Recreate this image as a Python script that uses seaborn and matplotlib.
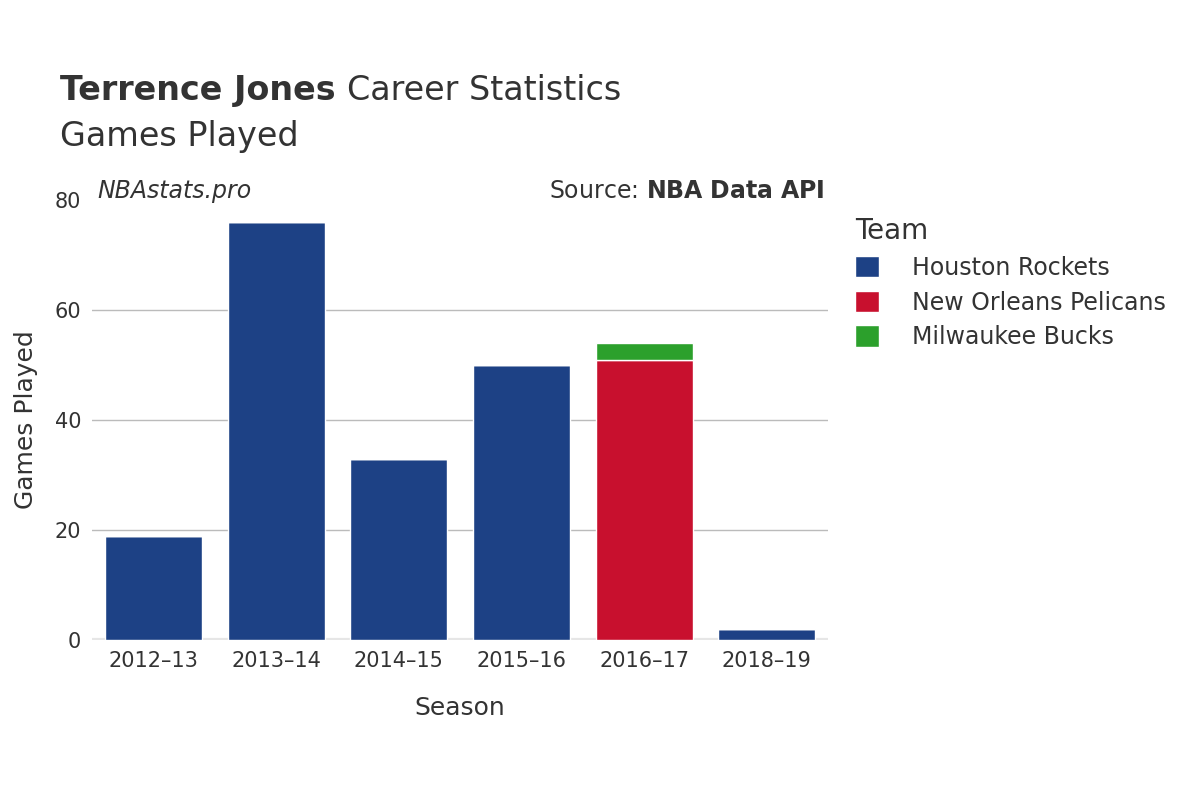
import pandas as pd
import matplotlib.pyplot as plt
import seaborn as sns

seasons = ["2012–13", "2013–14", "2014–15", "2015–16", "2016–17", "2018–19"]
houston = [19, 76, 33, 50, 0, 2]
pelicans = [0, 0, 0, 0, 51, 0]
bucks = [0, 0, 0, 0, 3, 0]
teams = ["Houston Rockets", "New Orleans Pelicans", "Milwaukee Bucks"]
colors = ["#1d4185", "#c8102e", "#2ca02c"]

df = pd.DataFrame({"Season": seasons, teams[0]: houston, teams[1]: pelicans, teams[2]: bucks})

fig = plt.figure(figsize=(12, 8), dpi=100)
ax = fig.add_axes([0.077, 0.2, 0.613, 0.55])

bottom = [0] * len(seasons)
for team, col in zip(teams, colors):
    sns.barplot(data=df, x="Season", y=team, color=col, bottom=bottom, width=0.79,
                ax=ax, label=team, edgecolor="white", linewidth=1, saturation=1)
    bottom = [b + v for b, v in zip(bottom, df[team])]

ax.set_ylim(0, 80)
ax.set_yticks([0, 20, 40, 60, 80])
ax.grid(False)
for y in [20, 40, 60]:
    ax.axhline(y, color="#bbbbbb", linewidth=1, zorder=0)
for s in ax.spines.values():
    s.set_visible(False)
ax.axhline(0, color="#e6e6e6", linewidth=3, zorder=0)
ax.tick_params(length=0, labelsize=15, colors="#333333", pad=8)
ax.set_xlabel("Season", fontsize=18, color="#333333", labelpad=18)
ax.set_ylabel("Games Played", fontsize=18, color="#333333", labelpad=12)

handles, labels = ax.get_legend_handles_labels()
if ax.get_legend() is not None:
    ax.get_legend().remove()

fig.text(0.05, 0.875, "Terrence Jones", fontsize=24, weight="bold", color="#333333")
fig.text(0.289, 0.875, "Career Statistics", fontsize=24, color="#333333")
fig.text(0.05, 0.817, "Games Played", fontsize=24, color="#333333")
fig.text(0.081, 0.752, "NBAstats.pro", fontsize=17, style="italic", color="#333333")
fig.text(0.687, 0.752, "Source: $\\bf{NBA\\ Data\\ API}$", fontsize=17, color="#333333", ha="right")

leg = fig.legend(handles, labels, title="Team", loc="upper left", bbox_to_anchor=(0.695, 0.755),
                 frameon=False, fontsize=17, title_fontsize=20, handlelength=1, handleheight=1,
                 labelspacing=0.45, handletextpad=1.4)
leg._legend_box.align = "left"
for t in leg.get_texts():
    t.set_color("#333333")
leg.get_title().set_color("#333333")

fig.savefig("out.png")
